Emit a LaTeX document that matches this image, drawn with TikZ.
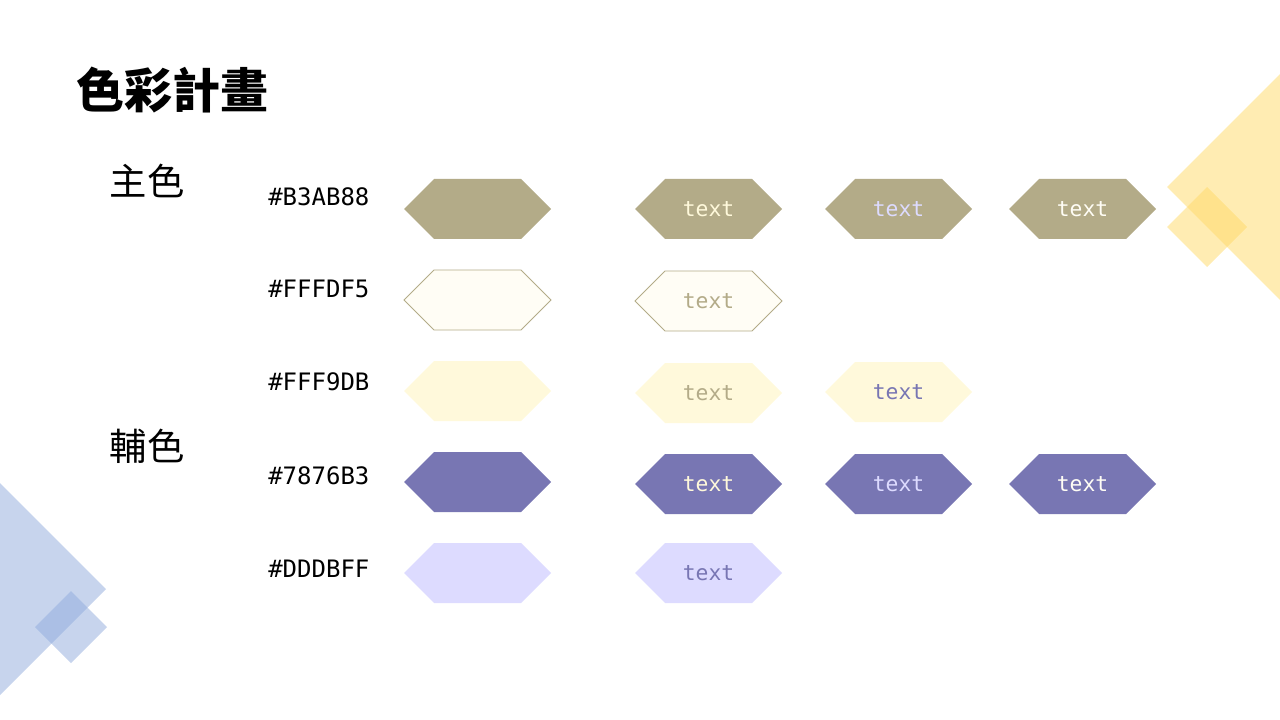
\documentclass[tikz,border=0pt]{standalone}
\usepackage{fontspec}
\setmonofont{DejaVu Sans Mono}
\newfontfamily\cjk{Noto Sans CJK TC}
\usetikzlibrary{shapes.symbols}
\definecolor{MainClr}{HTML}{B3AB88}
\definecolor{MainLightClr}{HTML}{FFFDF5}
\definecolor{CreamClr}{HTML}{FFF9DB}
\definecolor{SubClr}{HTML}{7876B3}
\definecolor{SubLightClr}{HTML}{DDDBFF}
\definecolor{GoldDeco}{HTML}{FFD966}
\definecolor{BlueDeco}{HTML}{8FAADC}

\tikzset{
  hexa/.style={signal,signal to=east and west,signal pointer angle=90,
    minimum width=110.25pt,minimum height=45pt,inner sep=0pt,
    font=\ttfamily\fontsize{16}{16}\selectfont},
  code/.style={anchor=west,inner sep=0pt,font=\ttfamily\fontsize{18}{18}\selectfont},
  head/.style={inner sep=0pt,font=\cjk\fontsize{28}{28}\selectfont}
}

\begin{document}
\begin{tikzpicture}[x=0.75pt,y=-0.75pt]
\useasboundingbox (0,0) rectangle (1280,720);

\fill[GoldDeco,fill opacity=0.5] (1167,187) -- (1280,74) -- (1280,300) -- cycle;
\fill[GoldDeco,fill opacity=0.5] (1167,227) -- (1207,187) -- (1247,227) -- (1207,267) -- cycle;
\fill[BlueDeco,fill opacity=0.5] (0,483) -- (106,589) -- (0,695) -- cycle;
\fill[BlueDeco,fill opacity=0.5] (35,627) -- (71,591) -- (107,627) -- (71,663) -- cycle;

\node[anchor=west,inner sep=0pt,font=\cjk\bfseries\fontsize{36}{36}\selectfont] (title) at (76,90) {色彩計畫};

\node[head] (main) at (147,181) {主色};
\node[head] (sub) at (147,446) {輔色};

\node[code] (code1) at (268,197) {\#B3AB88};
\node[code] (code2) at (268,289) {\#FFFDF5};
\node[code] (code3) at (268,382) {\#FFF9DB};
\node[code] (code4) at (268,476) {\#7876B3};
\node[code] (code5) at (268,569) {\#DDDBFF};

\node[hexa,fill=MainClr] (swatch1) at (477.5,209) {};
\node[hexa,fill=MainClr,text=CreamClr] (main11) at (708.5,209) {text};
\node[hexa,fill=MainClr,text=SubLightClr] (main12) at (898.5,209) {text};
\node[hexa,fill=MainClr,text=MainLightClr] (main13) at (1082.5,209) {text};

\node[hexa,fill=MainLightClr,draw=MainClr,line width=0.6pt] (swatch2) at (477.5,300) {};
\node[hexa,fill=MainLightClr,draw=MainClr,line width=0.6pt,text=MainClr] (main21) at (708.5,301) {text};

\node[hexa,fill=CreamClr] (swatch3) at (477.5,391) {};
\node[hexa,fill=CreamClr,text=MainClr] (cream31) at (708.5,393) {text};
\node[hexa,fill=CreamClr,text=SubClr] (cream32) at (898.5,392) {text};

\node[hexa,fill=SubClr] (swatch4) at (477.5,482) {};
\node[hexa,fill=SubClr,text=CreamClr] (sub41) at (708.5,484) {text};
\node[hexa,fill=SubClr,text=SubLightClr] (sub42) at (898.5,484) {text};
\node[hexa,fill=SubClr,text=MainLightClr] (sub43) at (1082.5,484) {text};

\node[hexa,fill=SubLightClr] (swatch5) at (477.5,573) {};
\node[hexa,fill=SubLightClr,text=SubClr] (sub51) at (708.5,573) {text};

\end{tikzpicture}
\end{document}
